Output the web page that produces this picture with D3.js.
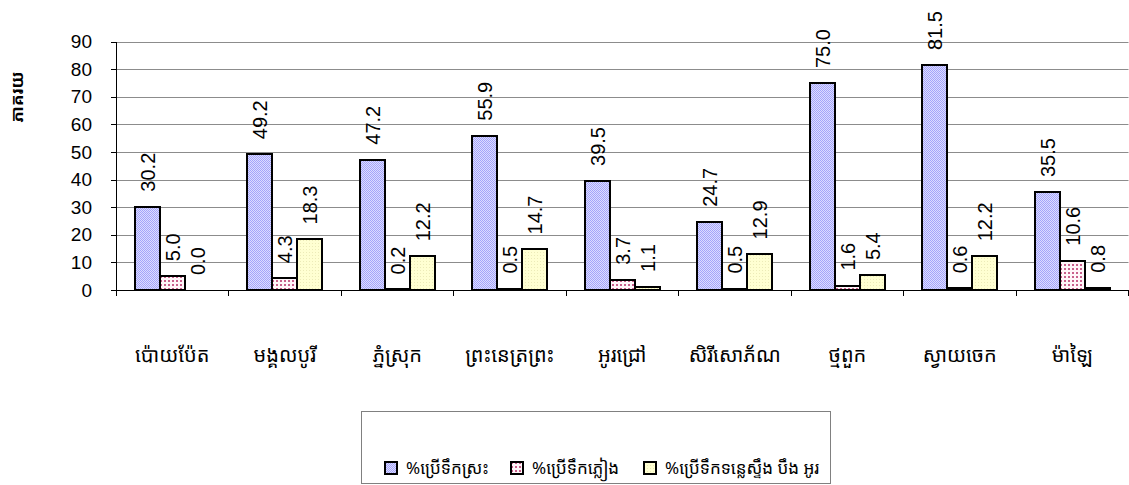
<!DOCTYPE html>
<html>
<head>
<meta charset="utf-8">
<script src="https://cdn.jsdelivr.net/npm/d3@7"></script>
<style>
  html, body { margin: 0; padding: 0; background: #fff; }
  svg { display: block; }
  .num { font-family: "Liberation Sans", Arial, sans-serif; }
  .kh { font-family: "Khmer OS System", "Khmer OS", "Noto Sans Khmer", "Noto Serif Khmer", "Khmer", sans-serif; }
</style>
</head>
<body>
<script>
const categories = ["ប៉ោយប៉ែត", "មង្គលបូរី", "ភ្នំស្រុក", "ព្រះនេត្រព្រះ", "អូរជ្រៅ", "សិរីសោភ័ណ", "ថ្មពួក", "ស្វាយចេក", "ម៉ាឡៃ"];
const seriesNames = ["%ប្រើទឹកស្រះ", "%ប្រើទឹកភ្លៀង", "%ប្រើទឹកទន្លេស្ទឹង បឹង អូរ"];
const pondValues  = [30.2, 49.2, 47.2, 55.9, 39.5, 24.7, 75.0, 81.5, 35.5];
const rainValues  = [5.0, 4.3, 0.2, 0.5, 3.7, 0.5, 1.6, 0.6, 10.6];
const riverValues = [0.0, 18.3, 12.2, 14.7, 1.1, 12.9, 5.4, 12.2, 0.8];
const yTicks = [0, 10, 20, 30, 40, 50, 60, 70, 80, 90];
const yTitle = "ភាគរយ";

const seriesValues = [pondValues, rainValues, riverValues];

const W = 1129, H = 485;
const svg = d3.select("body").append("svg").attr("width", W).attr("height", H);

// patterns (integer-aligned to the page)
const defs = svg.append("defs");
const p0 = defs.append("pattern").attr("id", "pat0").attr("patternUnits", "userSpaceOnUse").attr("width", 2).attr("height", 2);
p0.append("rect").attr("width", 2).attr("height", 2).attr("fill", "#dcdcff");
p0.append("rect").attr("width", 1).attr("height", 1).attr("fill", "#a4a4fa");
p0.append("rect").attr("x", 1).attr("y", 1).attr("width", 1).attr("height", 1).attr("fill", "#a4a4fa");
const p1 = defs.append("pattern").attr("id", "pat1").attr("patternUnits", "userSpaceOnUse").attr("width", 4).attr("height", 4);
p1.append("rect").attr("width", 4).attr("height", 4).attr("fill", "#fff6f9");
p1.append("rect").attr("width", 2).attr("height", 2).attr("fill", "#c8608c");
const p2 = defs.append("pattern").attr("id", "pat2").attr("patternUnits", "userSpaceOnUse").attr("width", 3).attr("height", 3);
p2.append("rect").attr("width", 3).attr("height", 3).attr("fill", "#ffffd2");
p2.append("rect").attr("width", 1).attr("height", 1).attr("fill", "#ecebb8");
const fills = ["url(#pat0)", "url(#pat1)", "url(#pat2)"];

const plotLeft = 116, plotRight = 1128.5, plotBottom = 290, plotTop = 41.6;

const x0 = d3.scaleBand().domain(categories).range([plotLeft, plotRight]).paddingInner(0).paddingOuter(0);
const x1 = d3.scaleBand().domain(d3.range(seriesNames.length)).range([0, x0.bandwidth()]).paddingInner(0).paddingOuter(0.75);
const y = d3.scaleLinear().domain([0, 90]).range([plotBottom, plotTop]);

// gridlines
svg.append("g").selectAll("line").data(yTicks.filter(t => t > 0)).join("line")
  .attr("x1", plotLeft).attr("x2", plotRight)
  .attr("y1", d => Math.round(y(d)) + 0.5).attr("y2", d => Math.round(y(d)) + 0.5)
  .attr("stroke", "#8c8c8c").attr("stroke-width", 1);

// bar data
const barData = [];
categories.forEach((c, i) => seriesValues.forEach((vals, s) => barData.push({c, s, v: vals[i]})));
const bx = d => Math.round(x0(d.c) + x1(d.s));
const bw = Math.round(x1.bandwidth());

// bars
svg.append("g").selectAll("rect").data(barData).join("rect")
  .attr("x", bx).attr("width", bw)
  .attr("y", d => Math.round(y(d.v))).attr("height", d => Math.round(y(0)) - Math.round(y(d.v)))
  .attr("fill", d => fills[d.s]).attr("stroke", "#000").attr("stroke-width", 2);

// value labels
svg.append("g").selectAll("text").data(barData).join("text")
  .attr("class", "num")
  .attr("transform", d => `translate(${bx(d) + bw / 2},${y(d.v) - 15}) rotate(-90)`)
  .attr("dy", "0.36em")
  .attr("font-size", 20)
  .attr("fill", "#000")
  .text(d => d.v.toFixed(1));

// y axis
const yAxis = svg.append("g").attr("transform", `translate(${plotLeft},0)`)
  .call(d3.axisLeft(y).tickValues(yTicks).tickSize(5).tickPadding(19).tickFormat(d3.format("d")));
yAxis.select(".domain").attr("stroke", "#000").attr("shape-rendering", "crispEdges");
yAxis.selectAll(".tick line").attr("stroke", "#000").attr("shape-rendering", "crispEdges");
yAxis.selectAll(".tick text").attr("class", "num").attr("font-size", 19).attr("fill", "#000");

// x axis
const xAxisG = svg.append("g").attr("transform", `translate(0,${plotBottom})`);
xAxisG.append("line").attr("x1", plotLeft).attr("x2", plotRight).attr("y1", 0).attr("y2", 0)
  .attr("stroke", "#000").attr("shape-rendering", "crispEdges");
const boundaries = categories.map(c => x0(c)).concat([x0(categories[categories.length - 1]) + x0.bandwidth()]);
xAxisG.selectAll("line.t").data(boundaries).join("line").attr("class", "t")
  .attr("x1", d => d).attr("x2", d => d).attr("y1", 0).attr("y2", 6)
  .attr("stroke", "#000").attr("shape-rendering", "crispEdges");
xAxisG.selectAll("text").data(categories).join("text")
  .attr("class", "kh")
  .attr("x", d => x0(d) + x0.bandwidth() / 2).attr("y", 72)
  .attr("text-anchor", "middle").attr("font-size", 20).attr("fill", "#000")
  .text(d => d);

// y title
svg.append("text").attr("class", "kh")
  .attr("transform", `translate(23,97) rotate(-90)`)
  .attr("text-anchor", "middle").attr("font-size", 17).attr("font-weight", "bold")
  .text(yTitle);

// legend
svg.append("rect").attr("x", 361.5).attr("y", 411.5).attr("width", 469).attr("height", 72)
  .attr("fill", "#fff").attr("stroke", "#808080");
const legendX = [385, 511, 644];
const lg = svg.append("g").selectAll("g").data(seriesNames).join("g")
  .attr("transform", (d, i) => `translate(${legendX[i]},462)`);
lg.append("rect").attr("width", 12).attr("height", 12).attr("fill", (d, i) => fills[i])
  .attr("stroke", "#000").attr("stroke-width", 2);
lg.append("text").attr("class", "kh").attr("x", 21).attr("y", 12).attr("font-size", 17).attr("fill", "#000")
  .text(d => d);
</script>
</body>
</html>
